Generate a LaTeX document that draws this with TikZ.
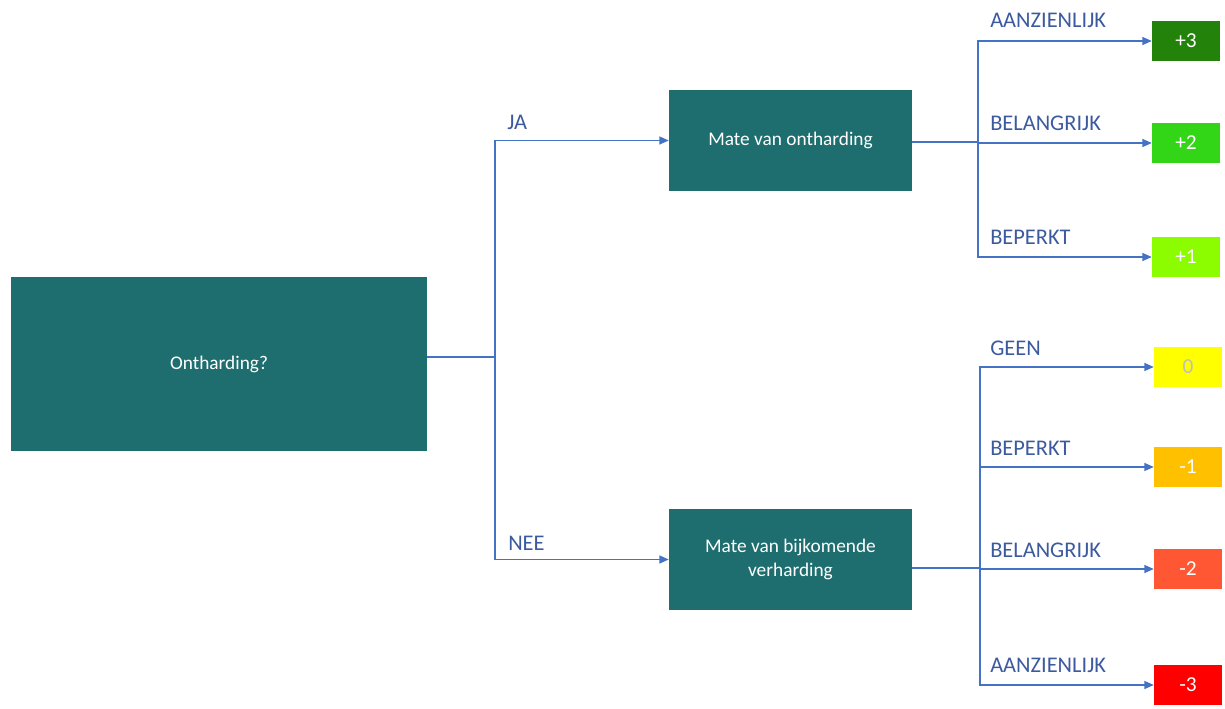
\documentclass[tikz,border=0pt]{standalone}
\usepackage{fontspec}
\setmainfont{Carlito}
\usetikzlibrary{arrows.meta}
\definecolor{boxteal}{HTML}{1E6E70}
\definecolor{linkblue}{HTML}{4472C4}
\definecolor{labelblue}{HTML}{3C5A9E}
\definecolor{plusthree}{HTML}{228209}
\definecolor{plustwo}{HTML}{33D616}
\definecolor{plusone}{HTML}{8CFC00}
\definecolor{zerobox}{HTML}{FFFF00}
\definecolor{minone}{HTML}{FFC000}
\definecolor{mintwo}{HTML}{FF5733}
\definecolor{minthree}{HTML}{FF0000}
\begin{document}
\begin{tikzpicture}[x=0.75pt,y=-0.75pt]
        \tikzstyle{question}=[fill=boxteal,text=white,inner sep=0pt,align=center,font=\fontsize{14.5}{17.5}\selectfont]
        \tikzstyle{score}=[minimum width=51pt,minimum height=30pt,inner sep=0pt,text=white,font=\fontsize{16}{18}\selectfont]
        \tikzstyle{stem}=[draw=linkblue,line width=1.5pt]
        \tikzstyle{branch}=[draw=linkblue,line width=0.9pt,-{Triangle[length=7pt,width=6pt]}]
        \tikzstyle{answer}=[text=labelblue,anchor=base west,inner sep=0pt,font=\fontsize{16.8}{19}\selectfont]
        \useasboundingbox (0,0) rectangle (1225,709);
       \begin{scope}
         % vraag en deelvragen
         \node [question,minimum width=312pt,minimum height=130.5pt] (ontharding) at (219,364) {Ontharding?};
         \node [question,minimum width=182.25pt,minimum height=75.75pt] (mateont) at (790.5,140.5) {Mate van ontharding};
         \node [question,minimum width=182.25pt,minimum height=75.75pt] (mateverh) at (790.5,559.5) {Mate van bijkomende\\verharding};
         % scores
         \node [score,fill=plusthree] (p3) at (1186,41) {+3};
         \node [score,fill=plustwo] (p2) at (1186,143) {+2};
         \node [score,fill=plusone] (p1) at (1186,257) {+1};
         \node [score,fill=zerobox,text=black!25] (n0) at (1188,367) {0};
         \node [score,fill=minone] (m1) at (1188,467) {-1};
         \node [score,fill=mintwo] (m2) at (1188,569) {-2};
         \node [score,fill=minthree] (m3) at (1188,685) {-3};
         \coordinate (split) at (495,357);
         \coordinate (fork1) at (978,142);
         \coordinate (fork2) at (980,568);
         % verbindingen
         \path[stem] (ontharding.east|-split) -- (split);
         \path[branch] (split) |- (mateont.west);
         \path[branch] (split) |- (mateverh.west);
         \path[stem] (mateont.east|-fork1) -- (fork1);
         \path[branch] (fork1) |- (p3.west);
         \path[branch] (fork1) |- (p2.west);
         \path[branch] (fork1) |- (p1.west);
         \path[stem] (mateverh.east|-fork2) -- (fork2);
         \path[branch] (fork2) |- (n0.west);
         \path[branch] (fork2) |- (m1.west);
         \path[branch] (fork2) |- (m2.west);
         \path[branch] (fork2) |- (m3.west);
         % labels
         \node [answer] (ja) at (507,130) {JA};
         \node [answer] (nee) at (508,550) {NEE};
         \node [answer] (l3) at (990,28) {AANZIENLIJK};
         \node [answer] (l2) at (990,131) {BELANGRIJK};
         \node [answer] (l1) at (990,245) {BEPERKT};
         \node [answer] (l0) at (990,356) {GEEN};
         \node [answer] (lm1) at (990,455) {BEPERKT};
         \node [answer] (lm2) at (990,557) {BELANGRIJK};
         \node [answer] (lm3) at (990,672) {AANZIENLIJK};
        \end{scope}
      \end{tikzpicture}
\end{document}
